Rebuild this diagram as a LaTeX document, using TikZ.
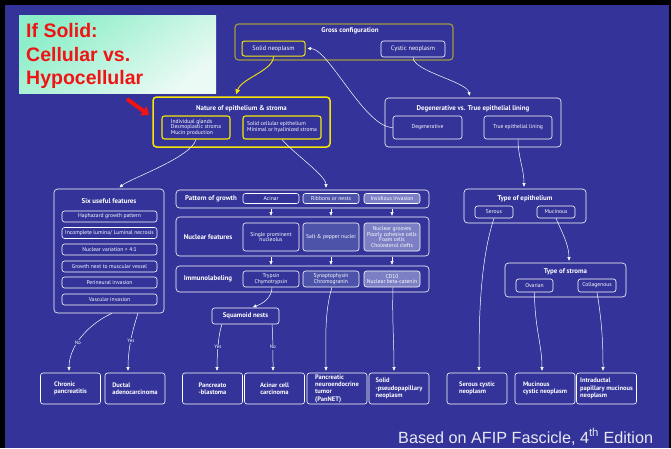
\documentclass[tikz,border=0pt]{standalone}
\usepackage{fontspec}
\setmainfont{PT Sans}
\newfontfamily\arialfont{Liberation Sans}
\usetikzlibrary{arrows.meta,shadings}

\definecolor{slide}{RGB}{51,51,153}
\definecolor{olive}{RGB}{160,154,62}
\definecolor{sunyellow}{RGB}{245,230,10}
\definecolor{tintA}{RGB}{78,83,170}
\definecolor{tintB}{RGB}{124,127,196}
\definecolor{aquatop}{RGB}{140,238,200}
\definecolor{aquabot}{RGB}{236,250,245}
\definecolor{footgray}{RGB}{232,232,242}
\definecolor{alertred}{RGB}{240,20,20}

\begin{document}
\begin{tikzpicture}[x=1pt,y=-1pt,
  box/.style={draw=white, rounded corners=2.5pt, line width=0.6pt, inner sep=0pt,
              align=center, text=white},
  frame/.style={box, rounded corners=3.5pt},
  ttl/.style={text=white, font=\bfseries\fontsize{6.9}{7.5}\selectfont, inner sep=0pt},
  small/.style={font=\fontsize{5.6}{5.9}\selectfont},
  mid/.style={font=\fontsize{6.4}{7}\selectfont},
  leaf/.style={box, minimum width=60pt, minimum height=31pt, align=left,
               font=\bfseries\fontsize{6.5}{7.3}\selectfont},
  arr/.style={draw=white, line width=0.5pt, shorten >=2pt,
              -{Triangle[length=3.5pt,width=3pt]}},
  lbl/.style={text=white, font=\fontsize{5}{5}\selectfont, fill=slide, inner sep=0.7pt},
  headline/.style={anchor=base west, text=alertred, inner sep=0pt,
                   font=\arialfont\bfseries\fontsize{19.5}{22}\selectfont}
]
\useasboundingbox (0,0) rectangle (671,448);

% slide background with its dark edge
\fill[black] (0,0) rectangle (671,448);
\fill[slide] (5,5) rectangle (669,448);

% heading panel
\shade[top color=aquatop, bottom color=aquabot, shading angle=35] (19,15) rectangle (216,93);
\node[headline] (h1) at (26,37) {If Solid:};
\node[headline] (h2) at (26,61) {Cellular vs.};
\node[headline] (h3) at (26,84) {Hypocellular};

% pointer arrow
\coordinate (ptrA) at (127,99);
\coordinate (ptrB) at (149,115);
\draw[alertred, line width=4pt, -{Triangle[length=7pt,width=11pt]}] (ptrA) -- (ptrB);

% gross configuration
\node[frame, draw=olive, line width=1.2pt, minimum width=218pt, minimum height=36pt] (gross) at (344,42) {};
\node[ttl] (grossT) at (350,31) {Gross configuration};
\node[box, mid, draw=sunyellow, line width=1pt, minimum width=63pt, minimum height=15pt] (solid) at (273.5,48.5) {Solid neoplasm};
\node[box, mid, minimum width=64pt, minimum height=16pt] (cystic) at (413,49) {Cystic neoplasm};

% nature of epithelium and stroma
\node[frame, draw=sunyellow, line width=1.5pt, minimum width=177pt, minimum height=50pt] (nature) at (241.5,122) {};
\node[ttl] (natureT) at (241.5,109) {Nature of epithelium \& stroma};
\node[box, small, align=left, draw=sunyellow, line width=1.1pt, minimum width=68pt, minimum height=23pt] (hypo) at (196,127.5) {Individual glands\\Desmoplastic stroma\\Mucin production};
\node[box, small, align=left, draw=sunyellow, line width=1.1pt, minimum width=78pt, minimum height=23pt] (cell) at (282,127.5) {Solid cellular epithelium\\Minimal or hyalinized stroma};

% degenerative vs true lining
\node[frame, minimum width=176pt, minimum height=49pt] (degvs) at (473,122.5) {};
\node[ttl] (degvsT) at (473,109) {Degenerative vs. True epithelial lining};
\node[box, small, minimum width=69pt, minimum height=23pt] (degen) at (427.5,127.5) {Degenerative};
\node[box, small, minimum width=68pt, minimum height=23pt] (truel) at (518,127.5) {True epithelial lining};

% type of epithelium
\node[frame, minimum width=122pt, minimum height=34pt] (epi) at (525,206) {};
\node[ttl] (epiT) at (525,199) {Type of epithelium};
\node[box, small, minimum width=38pt, minimum height=12pt] (serous) at (494,212) {Serous};
\node[box, small, minimum width=38pt, minimum height=12pt] (mucinous) at (556,212) {Mucinous};

% type of stroma
\node[frame, minimum width=121pt, minimum height=34pt] (stroma) at (565.5,280) {};
\node[ttl] (stromaT) at (565.5,271.5) {Type of stroma};
\node[box, small, minimum width=37pt, minimum height=13pt] (ovarian) at (534.5,285.5) {Ovarian};
\node[box, small, minimum width=38pt, minimum height=13pt] (collag) at (597,285.5) {Collagenous};

% six useful features
\node[frame, minimum width=110pt, minimum height=124pt] (six) at (109,251) {};
\node[ttl] (sixT) at (109,201) {Six useful features};
\node[box, small, minimum width=95pt, minimum height=11pt] (f1) at (109.5,216.5) {Haphazard growth pattern};
\node[box, small, minimum width=95pt, minimum height=11pt] (f2) at (109.5,233) {Incomplete lumina/ Luminal necrosis};
\node[box, small, minimum width=95pt, minimum height=11pt] (f3) at (109.5,249.5) {Nuclear variation > 4:1};
\node[box, small, minimum width=95pt, minimum height=11pt] (f4) at (109.5,266.5) {Growth next to muscular vessel};
\node[box, small, minimum width=95pt, minimum height=11pt] (f5) at (109.5,282.5) {Perineural invasion};
\node[box, small, minimum width=95pt, minimum height=11pt] (f6) at (109.5,299.5) {Vascular invasion};

% pattern of growth
\node[frame, minimum width=253pt, minimum height=18pt] (pattern) at (302.5,199) {};
\node[ttl] (patternT) at (211,199) {Pattern of growth};
\node[box, small, minimum width=56pt, minimum height=10pt] (acinar) at (271,198.5) {Acinar};
\node[box, small, fill=tintA, minimum width=56pt, minimum height=10pt] (ribbons) at (331,198.5) {Ribbons or nests};
\node[box, small, fill=tintB, minimum width=56pt, minimum height=10pt] (insid) at (392,198.5) {Insidious invasion};

% nuclear features
\node[frame, minimum width=253pt, minimum height=39pt] (nuclear) at (302.5,236.5) {};
\node[ttl] (nuclearT) at (208,237) {Nuclear features};
\node[box, small, minimum width=56pt, minimum height=28pt] (nucleolus) at (271,237) {Single prominent\\nucleolus};
\node[box, small, fill=tintA, minimum width=56pt, minimum height=28pt] (saltpep) at (331,237) {Salt \& pepper nuclei};
\node[box, small, fill=tintB, minimum width=56pt, minimum height=28pt] (grooves) at (392,237) {Nuclear grooves\\Poorly cohesive cells\\Foam cells\\Cholesterol clefts};

% immunolabeling
\node[frame, minimum width=253pt, minimum height=26pt] (immuno) at (302.5,279) {};
\node[ttl] (immunoT) at (208,279) {Immunolabeling};
\node[box, small, minimum width=56pt, minimum height=16pt] (trypsin) at (271,279) {Trypsin\\Chymotrypsin};
\node[box, small, fill=tintA, minimum width=56pt, minimum height=16pt] (synapto) at (331,279) {Synaptophysin\\Chromogranin};
\node[box, small, fill=tintB, minimum width=56pt, minimum height=16pt] (cd10) at (392,279) {CD10\\Nuclear beta-catenin};

% squamoid nests
\node[box, font=\bfseries\fontsize{6.7}{7}\selectfont, minimum width=67pt, minimum height=16pt] (squam) at (245.5,316) {Squamoid nests};

% diagnoses
\node[leaf] (chronic) at (70.5,388.5) {Chronic\\pancreatitis};
\node[leaf] (ductal) at (135,388.5) {Ductal\\adenocarcinoma};
\node[leaf, align=center] (pblast) at (212.5,388.5) {Pancreato\\-blastoma};
\node[leaf, align=center] (acc) at (274.5,388.5) {Acinar cell\\carcinoma};
\node[leaf] (pannet) at (337,388.5) {Pancreatic\\neuroendocrine\\tumor\\(PanNET)};
\node[leaf] (spn) at (399,388.5) {Solid\\-pseudopapillary\\neoplasm};
\node[leaf] (scn) at (477,388.5) {Serous cystic\\neoplasm};
\node[leaf] (mcn) at (545,388.5) {Mucinous\\cystic neoplasm};
\node[leaf] (ipmn) at (606.5,388.5) {Intraductal\\papillary mucinous\\neoplasm};

% connectors, upper part
\draw[arr, draw=sunyellow, line width=0.9pt, -{Triangle[length=5pt,width=4.5pt]}]
  (solid.south) .. controls +(0,14) and +(6,-18) .. ([xshift=-6pt]nature.north);
\draw[arr] (degen.west) .. controls +(-28,0) and +(23,0) .. (solid.east);
\draw[arr] (cystic.south) .. controls +(0,14) and +(-3,-16) .. ([xshift=-3pt]degvs.north);
\draw[arr] (truel.south) .. controls +(0,18) and +(0,-20) .. ([xshift=-1pt]epi.north);
\draw[arr] (mucinous.south) .. controls +(6,14) and +(0,-18) .. ([xshift=3.5pt]stroma.north);
\draw[arr] (hypo.south) .. controls +(-5,18) and +(12,-10) .. ([xshift=9pt]six.north);
\draw[arr] (cell.south) .. controls +(12,14) and +(0,-14) .. ([xshift=23.5pt]pattern.north);

% connectors between the rows of the middle column
\foreach \c in {acinar,ribbons,insid}{
  \draw[arr, shorten >=1pt, shorten <=1pt] (\c.south |- pattern.south) -- (\c.south |- nuclear.north);
}
\foreach \c in {nucleolus,saltpep,grooves}{
  \draw[arr, shorten >=1pt, shorten <=1pt] (\c.south |- nuclear.south) -- (\c.south |- immuno.north);
}

% connectors to the diagnoses
\draw[arr] ([xshift=3pt]six.south) .. controls +(-22,10) and +(0,-28) .. ([xshift=-1.5pt]chronic.north)
  node[lbl, pos=0.6] (no1) {No};
\draw[arr] ([xshift=29pt]six.south) .. controls +(-5,15) and +(0,-25) .. ([xshift=-7pt]ductal.north)
  node[lbl, pos=0.52] (yes1) {Yes};
\draw[arr] ([xshift=1pt]trypsin.south) .. controls +(0,10) and +(12,-4) .. ([xshift=5.5pt]squam.north);
\draw[arr] ([xshift=-23.5pt]squam.south) .. controls +(-4,10) and +(0,-14) .. ([xshift=4.5pt]pblast.north)
  node[lbl, pos=0.5] (yes2) {Yes};
\draw[arr] ([xshift=26.5pt]squam.south) .. controls +(1,10) and +(0,-14) .. ([xshift=-1.5pt]acc.north)
  node[lbl, pos=0.5] (no2) {No};
\draw[arr] ([xshift=1pt]synapto.south) .. controls +(-8,25) and +(0,-28) .. ([xshift=-11pt]pannet.north);
\draw[arr] ([xshift=1pt]cd10.south) .. controls +(-1,30) and +(0,-30) .. ([xshift=-5pt]spn.north);
\draw[arr] (serous.south) .. controls +(-15,45) and +(0,-45) .. ([xshift=2pt]scn.north);
\draw[arr] (ovarian.south) .. controls +(0,35) and +(0,-28) .. ([xshift=-3pt]mcn.north);
\draw[arr] (collag.south) .. controls +(5,30) and +(0,-30) .. ([xshift=-3.5pt]ipmn.north);

% source line
\node[anchor=base west, text=footgray, inner sep=0pt, font=\arialfont\fontsize{16.2}{18}\selectfont]
  (source) at (398,443) {Based on AFIP Fascicle, 4\textsuperscript{th} Edition};
\end{tikzpicture}
\end{document}
